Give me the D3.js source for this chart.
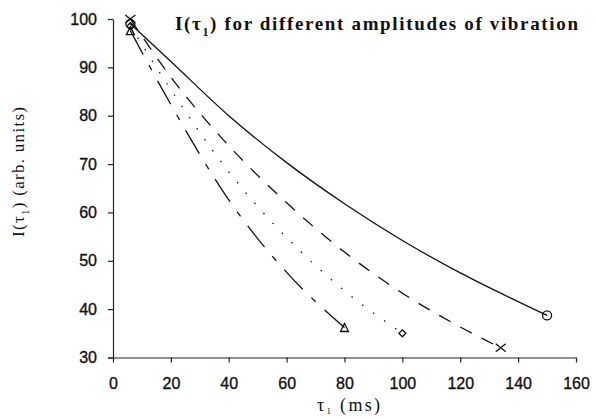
<!DOCTYPE html>
<html>
<head>
<meta charset="UTF-8" />
<title>I(tau1) for different amplitudes of vibration</title>
<script src="https://d3js.org/d3.v7.min.js"></script>
<style>
  body { margin: 0; background: #fff; }
  svg { display: block; }
  .tick text { font-family: "Liberation Sans", Arial, sans-serif; font-size: 16px; fill: #111; stroke: #111; stroke-width: 0.35px; }
  .serif { font-family: "Liberation Serif", "Times New Roman", serif; fill: #111; }
</style>
</head>
<body>
<svg id="chart" width="596" height="419"></svg>
<script>
// values: tau1 (ms) and I(tau1) (arb. units)
const tauA = [6, 20, 40, 60, 80, 100, 120, 135, 150];      // solid, circle
const ampA = [99, 91.2, 80, 70.3, 61.8, 54.2, 47.5, 43, 38.7];
const tauB = [6, 20, 40, 60, 80, 100, 120, 134];            // dashed, cross
const ampB = [100, 88, 73.8, 62, 51.8, 43.3, 36.3, 32];
const tauC = [6, 20, 40, 60, 80, 100];                      // dotted, diamond
const ampC = [98.5, 85.4, 68.4, 54.8, 43.8, 35];
const tauD = [6, 20, 40, 60, 80];                           // dash-dot, triangle
const ampD = [97.6, 82.3, 62.6, 47.6, 36.2];

const xTicks = [0, 20, 40, 60, 80, 100, 120, 140, 160];
const yTicks = [30, 40, 50, 60, 70, 80, 90, 100];

const series = [
  { tau: tauA, amp: ampA, dash: null, marker: "circle" },
  { tau: tauB, amp: ampB, dash: "13,11", marker: "cross" },
  { tau: tauC, amp: ampC, dash: "1.5,12", marker: "diamond" },
  { tau: tauD, amp: ampD, dash: "27,12,6,12", marker: "triangle" }
];

const svg = d3.select("#chart");
const x = d3.scaleLinear().domain([0, 160]).range([113, 576]);
const y = d3.scaleLinear().domain([30, 100]).range([357.5, 19]);

// axes
const xAxis = d3.axisBottom(x).tickValues(xTicks).tickSize(5).tickPadding(15).tickSizeOuter(0);
svg.append("g").attr("transform", "translate(0,357.5)").call(xAxis)
  .call(g => g.select(".domain").attr("stroke", "#222").attr("stroke-width", 1.2).attr("d", "M108,0.5H576"));
const yAxis = d3.axisLeft(y).tickValues(yTicks).tickSize(5).tickPadding(11).tickSizeOuter(0);
svg.append("g").attr("transform", "translate(113,0)").call(yAxis)
  .call(g => g.select(".domain").attr("stroke", "#222").attr("stroke-width", 1.2));
svg.selectAll(".tick line").attr("stroke", "#222").attr("stroke-width", 1.2);

// curves
const line = d3.line().x(d => x(d[0])).y(d => y(d[1])).curve(d3.curveMonotoneX);
series.forEach(s => {
  const pts = s.tau.map((t, i) => [t, s.amp[i]]);
  svg.append("path")
    .attr("d", line(pts))
    .attr("fill", "none")
    .attr("stroke", "#111")
    .attr("stroke-width", 1.3)
    .attr("stroke-dasharray", s.dash);
  const ends = [pts[0], pts[pts.length - 1]];
  ends.forEach(p => {
    const g = svg.append("g").attr("transform", `translate(${x(p[0])},${y(p[1])})`)
      .attr("fill", "none").attr("stroke", "#111").attr("stroke-width", 1.3);
    if (s.marker === "circle") g.append("circle").attr("r", 4.5);
    if (s.marker === "cross") g.append("path").attr("d", "M-5,-4L5,4M-5,4L5,-4");
    if (s.marker === "diamond") g.append("path").attr("d", "M0,-3.5L3.5,0L0,3.5L-3.5,0Z");
    if (s.marker === "triangle") g.append("path").attr("d", "M0,-4L4,4H-4Z");
  });
});

// title
const title = svg.append("text").attr("class", "serif")
  .attr("x", 175).attr("y", 30)
  .attr("font-size", 19).attr("font-weight", "bold")
  .attr("textLength", 403).attr("lengthAdjust", "spacing");
title.append("tspan").text("I(τ");
title.append("tspan").attr("dy", 6).attr("font-size", 12).text("1");
title.append("tspan").attr("dy", -6).text(") for different amplitudes of vibration");

// y label
const yl = svg.append("text").attr("class", "serif")
  .attr("transform", "translate(24,172) rotate(-90)")
  .attr("text-anchor", "middle").attr("font-size", 17)
  .attr("textLength", 130).attr("lengthAdjust", "spacing");
yl.append("tspan").text("I(τ");
yl.append("tspan").attr("dy", 5).attr("font-size", 11).text("1");
yl.append("tspan").attr("dy", -5).text(") (arb. units)");

// x label
const xl = svg.append("text").attr("class", "serif")
  .attr("x", 317).attr("y", 411).attr("font-size", 18)
  .attr("textLength", 63).attr("lengthAdjust", "spacing");
xl.append("tspan").text("τ");
xl.append("tspan").attr("dy", 3).attr("font-size", 9).text("1");
xl.append("tspan").attr("dy", -3).text(" (ms)");
</script>
</body>
</html>
